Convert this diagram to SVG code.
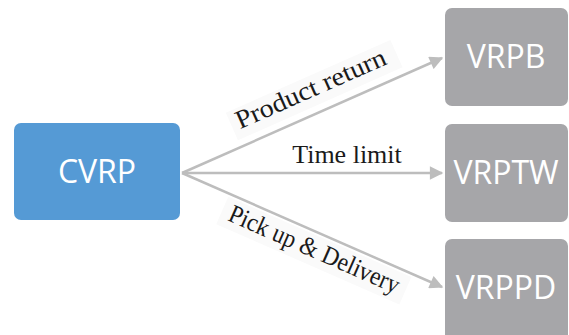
<svg xmlns="http://www.w3.org/2000/svg" width="569" height="335" viewBox="0 0 569 335">
<defs>
<style>
.node text{font-family:"Open Sans","Noto Sans",sans-serif;font-size:32px;fill:#fff;text-anchor:middle}
.gray rect{fill:#A6A6A9}
.lbl{font-family:"Liberation Serif","Times New Roman",serif;font-size:26px;fill:#1a1a1a;text-anchor:middle}
.edge{stroke:#BDBDBD;stroke-width:2.5;fill:none}
.bg{fill:#FAFAFA}
</style>
<marker id="ah" viewBox="0 0 10 10" refX="9" refY="5" markerWidth="6" markerHeight="5.4" markerUnits="strokeWidth" orient="auto">
<path d="M0,0 L10,5 L0,10 z" fill="#BDBDBD"/>
</marker>
</defs>
<rect width="569" height="335" fill="#fff"/>
<g id="labels-bg">
<rect class="bg" x="-90" y="-22" width="180" height="30" transform="translate(317,96.5) rotate(-23.9)"/>
<rect class="bg" x="-100" y="-22" width="200" height="30" transform="translate(311,257) rotate(23.7)"/>
</g>
<g id="connectors">
<line class="edge" x1="182" y1="173" x2="442" y2="58" marker-end="url(#ah)"/>
<line class="edge" x1="182" y1="173" x2="442" y2="173" marker-end="url(#ah)"/>
<line class="edge" x1="182" y1="173" x2="442" y2="287" marker-end="url(#ah)"/>
<text class="lbl" transform="translate(314,96.5) rotate(-23.9)" textLength="162" lengthAdjust="spacingAndGlyphs">Product return</text>
<text class="lbl" x="347" y="163">Time limit</text>
<text class="lbl" transform="translate(311,257) rotate(23.7)" textLength="184" lengthAdjust="spacingAndGlyphs">Pick up &amp; Delivery</text>
</g>
<g id="CVRP" class="node">
<rect x="14" y="123" width="166" height="97" rx="7" fill="#559AD5"/>
<text x="97" y="183">CVRP</text>
</g>
<g id="VRPB" class="node gray">
<rect x="445" y="8" width="123" height="98" rx="7"/>
<text x="506" y="68">VRPB</text>
</g>
<g id="VRPTW" class="node gray">
<rect x="445" y="124" width="123" height="98" rx="7"/>
<text x="506" y="184">VRPTW</text>
</g>
<g id="VRPPD" class="node gray">
<rect x="445" y="239" width="123" height="104" rx="7"/>
<text x="506" y="299">VRPPD</text>
</g>
</svg>
